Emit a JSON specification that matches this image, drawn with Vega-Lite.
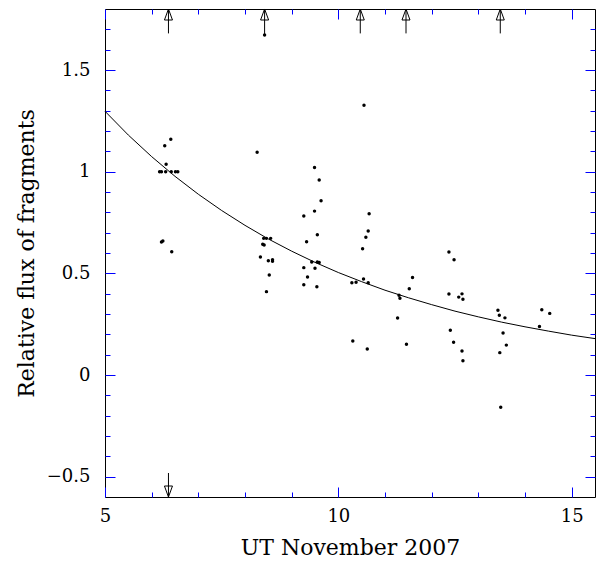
{
  "$schema": "https://vega.github.io/schema/vega-lite/v6.json",
  "width": 490,
  "height": 488,
  "autosize": "none",
  "padding": {"left": 105, "top": 9, "right": 1, "bottom": 64},
  "background": "white",
  "view": {"stroke": "black", "strokeWidth": 1},
  "config": {
    "font": "DejaVu Serif",
    "axis": {
      "labelFont": "DejaVu Serif",
      "titleFont": "DejaVu Serif",
      "labelColor": "black",
      "titleColor": "black",
      "titleFontWeight": "normal",
      "grid": false,
      "domain": false,
      "labelFlush": false,
      "labelOverlap": false
    }
  },
  "datasets": {
    "pts": [
      {"x": 6.41, "y": 1.159}, {"x": 6.28, "y": 1.127}, {"x": 6.31, "y": 1.037},
      {"x": 6.17, "y": 1.0}, {"x": 6.21, "y": 1.0}, {"x": 6.30, "y": 1.0},
      {"x": 6.42, "y": 1.0}, {"x": 6.51, "y": 1.0}, {"x": 6.56, "y": 1.0},
      {"x": 6.21, "y": 0.654}, {"x": 6.24, "y": 0.659}, {"x": 6.43, "y": 0.606},
      {"x": 8.26, "y": 1.095}, {"x": 8.42, "y": 1.672},
      {"x": 8.40, "y": 0.672}, {"x": 8.46, "y": 0.672}, {"x": 8.55, "y": 0.672},
      {"x": 8.38, "y": 0.643}, {"x": 8.41, "y": 0.639}, {"x": 8.33, "y": 0.580},
      {"x": 8.50, "y": 0.562}, {"x": 8.59, "y": 0.567}, {"x": 8.59, "y": 0.559},
      {"x": 8.52, "y": 0.492}, {"x": 8.46, "y": 0.410},
      {"x": 9.49, "y": 1.021}, {"x": 9.59, "y": 0.959}, {"x": 9.63, "y": 0.857},
      {"x": 9.49, "y": 0.806}, {"x": 9.26, "y": 0.782}, {"x": 9.55, "y": 0.690},
      {"x": 9.32, "y": 0.655}, {"x": 9.43, "y": 0.556}, {"x": 9.55, "y": 0.556},
      {"x": 9.59, "y": 0.553}, {"x": 9.26, "y": 0.528}, {"x": 9.50, "y": 0.525},
      {"x": 9.34, "y": 0.482}, {"x": 9.26, "y": 0.444}, {"x": 9.54, "y": 0.434},
      {"x": 10.55, "y": 1.327}, {"x": 10.66, "y": 0.793}, {"x": 10.64, "y": 0.708},
      {"x": 10.59, "y": 0.677}, {"x": 10.52, "y": 0.621}, {"x": 10.29, "y": 0.454},
      {"x": 10.38, "y": 0.456}, {"x": 10.54, "y": 0.472}, {"x": 10.64, "y": 0.454},
      {"x": 10.31, "y": 0.167}, {"x": 10.62, "y": 0.128},
      {"x": 11.30, "y": 0.392}, {"x": 11.32, "y": 0.377}, {"x": 11.27, "y": 0.280},
      {"x": 11.46, "y": 0.151}, {"x": 11.52, "y": 0.424}, {"x": 11.59, "y": 0.480},
      {"x": 12.37, "y": 0.605}, {"x": 12.48, "y": 0.567}, {"x": 12.37, "y": 0.398},
      {"x": 12.58, "y": 0.383}, {"x": 12.65, "y": 0.399}, {"x": 12.67, "y": 0.373},
      {"x": 12.40, "y": 0.220}, {"x": 12.47, "y": 0.161}, {"x": 12.65, "y": 0.118},
      {"x": 12.67, "y": 0.070},
      {"x": 13.42, "y": 0.318}, {"x": 13.45, "y": 0.294}, {"x": 13.57, "y": 0.281},
      {"x": 13.53, "y": 0.207}, {"x": 13.60, "y": 0.147}, {"x": 13.46, "y": 0.110},
      {"x": 13.48, "y": -0.159},
      {"x": 14.36, "y": 0.321}, {"x": 14.53, "y": 0.303}, {"x": 14.31, "y": 0.239}
    ],
    "curve": [
      {"x": 5.0, "y": 1.297}, {"x": 5.5, "y": 1.180}, {"x": 6.0, "y": 1.074},
      {"x": 6.5, "y": 0.977}, {"x": 7.0, "y": 0.889}, {"x": 7.5, "y": 0.809},
      {"x": 8.0, "y": 0.736}, {"x": 8.5, "y": 0.669}, {"x": 9.0, "y": 0.609},
      {"x": 9.5, "y": 0.554}, {"x": 10.0, "y": 0.504}, {"x": 10.5, "y": 0.459},
      {"x": 11.0, "y": 0.417}, {"x": 11.5, "y": 0.380}, {"x": 12.0, "y": 0.346},
      {"x": 12.5, "y": 0.314}, {"x": 13.0, "y": 0.286}, {"x": 13.5, "y": 0.260},
      {"x": 14.0, "y": 0.237}, {"x": 14.5, "y": 0.216}, {"x": 15.0, "y": 0.196},
      {"x": 15.5, "y": 0.179}
    ],
    "arrows": [
      {"x": 6.36, "base": 1.68, "tip": 1.8, "dir": "up"},
      {"x": 8.42, "base": 1.672, "tip": 1.8, "dir": "up"},
      {"x": 10.47, "base": 1.68, "tip": 1.8, "dir": "up"},
      {"x": 11.45, "base": 1.68, "tip": 1.8, "dir": "up"},
      {"x": 13.47, "base": 1.68, "tip": 1.8, "dir": "up"},
      {"x": 6.36, "base": -0.482, "tip": -0.6, "dir": "down"}
    ]
  },
  "layer": [
    {
      "data": {"name": "curve"},
      "mark": {"type": "line", "color": "black", "strokeWidth": 1},
      "encoding": {
        "x": {
          "field": "x", "type": "quantitative",
          "scale": {"domain": [5, 15.5], "nice": false, "zero": false},
          "axis": {
            "orient": "bottom", "values": [5, 10, 15], "format": "~g",
            "ticks": false, "labelPadding": 10, "labelFontSize": 18,
            "title": "UT November 2007", "titleFontSize": 22, "titlePadding": 12
          }
        },
        "y": {
          "field": "y", "type": "quantitative",
          "scale": {"domain": [-0.6, 1.8], "nice": false, "zero": false},
          "axis": {
            "orient": "left", "values": [-0.5, 0, 0.5, 1, 1.5], "format": "~g",
            "ticks": false, "labelPadding": 15, "labelFontSize": 18,
            "title": "Relative flux of fragments", "titleFontSize": 22, "titlePadding": 8
          }
        }
      }
    },
    {
      "data": {"name": "pts"},
      "mark": {"type": "point", "filled": true, "color": "black", "size": 12, "opacity": 1},
      "encoding": {
        "x": {
          "field": "x", "type": "quantitative",
          "scale": {"domain": [5, 15.5], "nice": false, "zero": false},
          "axis": {
            "orient": "bottom", "values": [5, 10, 15],
            "labels": false, "title": null, "ticks": true, "tickSize": -10, "tickColor": "#0000ff", "tickWidth": 1
          }
        },
        "y": {
          "field": "y", "type": "quantitative",
          "scale": {"domain": [-0.6, 1.8], "nice": false, "zero": false},
          "axis": {
            "orient": "left", "values": [-0.5, 0, 0.5, 1, 1.5],
            "labels": false, "title": null, "ticks": true, "tickSize": -10, "tickColor": "#0000ff", "tickWidth": 1
          }
        }
      }
    },
    {
      "data": {"name": "arrows"},
      "mark": {"type": "rule", "color": "black", "strokeWidth": 1},
      "encoding": {
        "x": {
          "field": "x", "type": "quantitative",
          "scale": {"domain": [5, 15.5], "nice": false, "zero": false},
          "axis": {
            "orient": "bottom", "values": [6, 7, 8, 9, 11, 12, 13, 14],
            "labels": false, "title": null, "ticks": true, "tickSize": -5, "tickColor": "#0000ff", "tickWidth": 1
          }
        },
        "y": {
          "field": "base", "type": "quantitative",
          "scale": {"domain": [-0.6, 1.8], "nice": false, "zero": false},
          "axis": {
            "orient": "left",
            "values": [-0.4, -0.3, -0.2, -0.1, 0.1, 0.2, 0.3, 0.4, 0.6, 0.7, 0.8, 0.9, 1.1, 1.2, 1.3, 1.4, 1.6, 1.7],
            "labels": false, "title": null, "ticks": true, "tickSize": -5, "tickColor": "#0000ff", "tickWidth": 1
          }
        },
        "y2": {"field": "tip"}
      }
    },
    {
      "data": {"name": "arrows"},
      "transform": [{"filter": "datum.dir === 'up'"}],
      "mark": {"type": "point", "filled": false, "color": "black", "strokeWidth": 1, "size": 121, "opacity": 1, "shape": "M-0.73,2L0,0L0.73,2Z"},
      "encoding": {
        "x": {
          "field": "x", "type": "quantitative",
          "scale": {"domain": [5, 15.5], "nice": false, "zero": false},
          "axis": {
            "orient": "top", "values": [5, 10, 15],
            "labels": false, "title": null, "ticks": true, "tickSize": -10, "tickColor": "#0000ff", "tickWidth": 1
          }
        },
        "y": {
          "field": "tip", "type": "quantitative",
          "scale": {"domain": [-0.6, 1.8], "nice": false, "zero": false},
          "axis": {
            "orient": "right", "values": [-0.5, 0, 0.5, 1, 1.5],
            "labels": false, "title": null, "ticks": true, "tickSize": -10, "tickColor": "#0000ff", "tickWidth": 1
          }
        }
      }
    },
    {
      "data": {"name": "arrows"},
      "transform": [{"filter": "datum.dir === 'down'"}],
      "mark": {"type": "point", "filled": false, "color": "black", "strokeWidth": 1, "size": 121, "opacity": 1, "shape": "M-0.73,-2L0,0L0.73,-2Z"},
      "encoding": {
        "x": {
          "field": "x", "type": "quantitative",
          "scale": {"domain": [5, 15.5], "nice": false, "zero": false},
          "axis": {
            "orient": "top", "values": [6, 7, 8, 9, 11, 12, 13, 14],
            "labels": false, "title": null, "ticks": true, "tickSize": -5, "tickColor": "#0000ff", "tickWidth": 1
          }
        },
        "y": {
          "field": "tip", "type": "quantitative",
          "scale": {"domain": [-0.6, 1.8], "nice": false, "zero": false},
          "axis": {
            "orient": "right",
            "values": [-0.4, -0.3, -0.2, -0.1, 0.1, 0.2, 0.3, 0.4, 0.6, 0.7, 0.8, 0.9, 1.1, 1.2, 1.3, 1.4, 1.6, 1.7],
            "labels": false, "title": null, "ticks": true, "tickSize": -5, "tickColor": "#0000ff", "tickWidth": 1
          }
        }
      }
    }
  ],
  "resolve": {"axis": {"x": "independent", "y": "independent"}}
}
